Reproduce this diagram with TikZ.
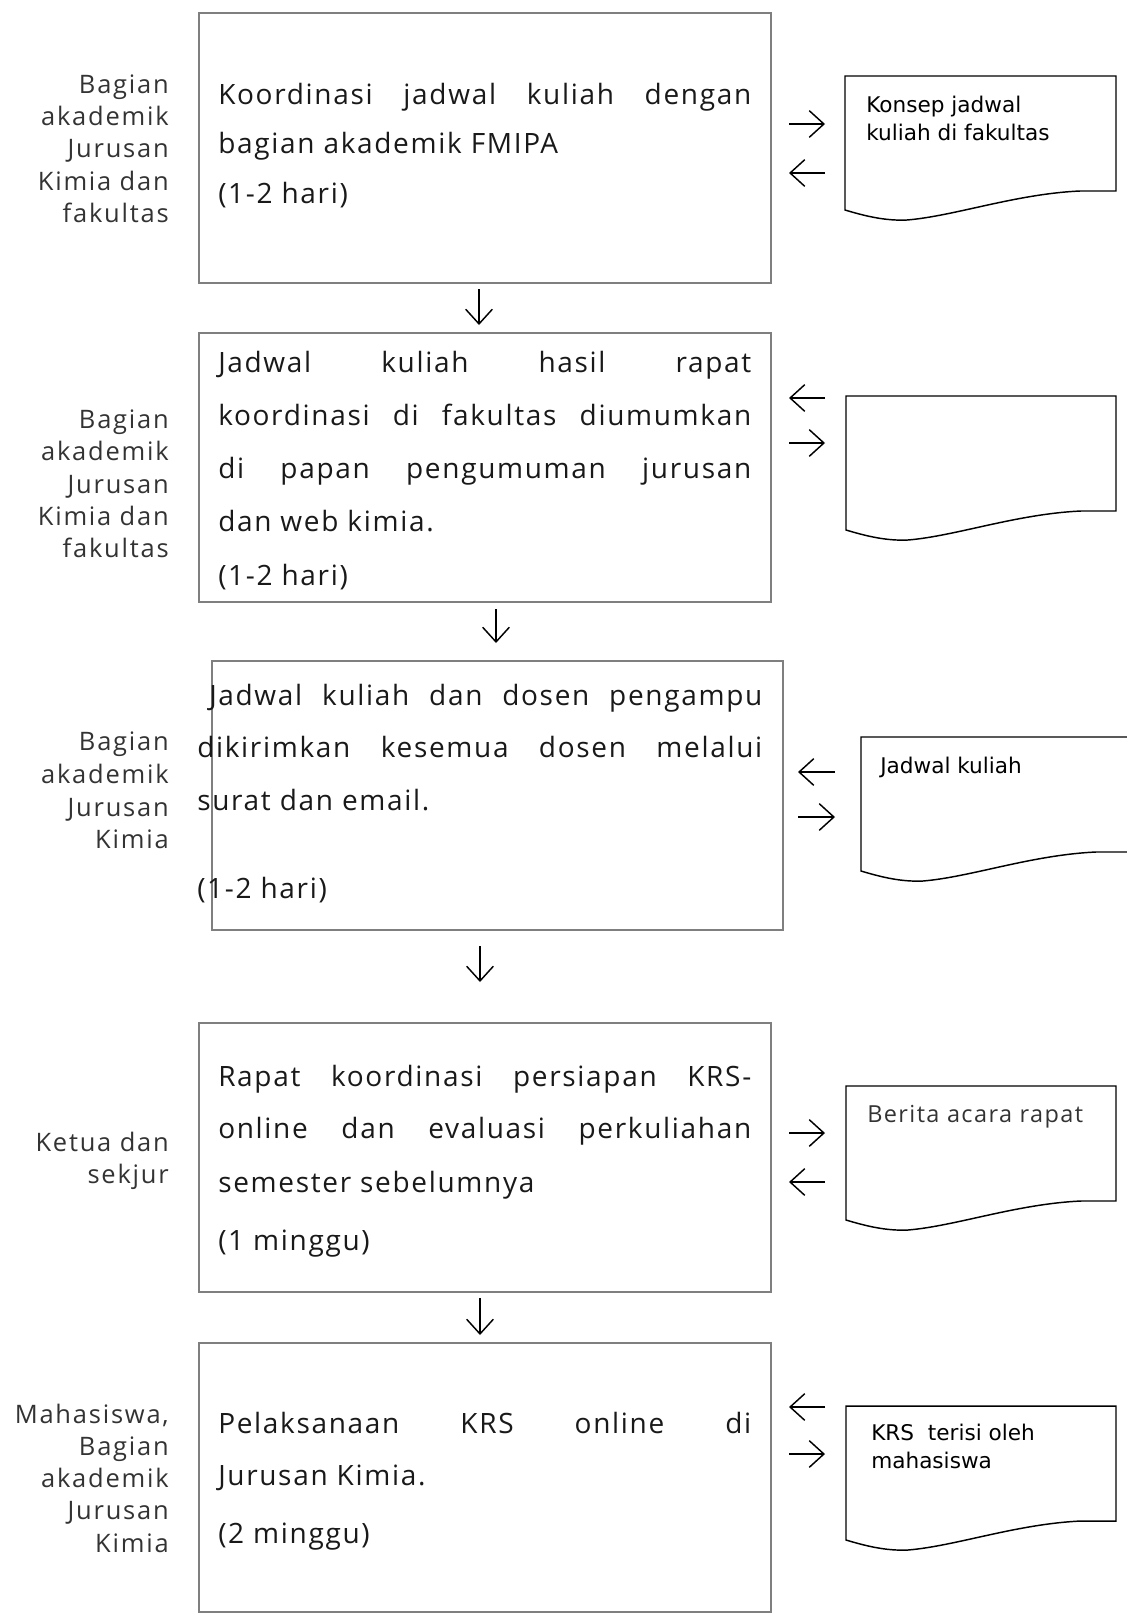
\documentclass[tikz,border=0pt]{standalone}
\usepackage{fontspec}
\usetikzlibrary{arrows.meta}
\newfontfamily\mainf[LetterSpace=6]{Open Sans}
\newfontfamily\labf[LetterSpace=7]{Open Sans}
\newfontfamily\docf{DejaVu Sans}
\definecolor{boxgray}{HTML}{7F7F7F}
\definecolor{labgray}{HTML}{333333}
\newcommand{\jl}[1]{\makebox[399.75pt][s]{#1}}
\newcommand{\docshape}[3]{%
  \draw[docline] (#1,#2) -- (#3,#2) -- (#3,{#2+115}) -- ({#1+235},{#2+115})
    .. controls ({#1+170},{#2+118}) and ({#1+110},{#2+140}) .. ({#1+62},{#2+144})
    .. controls ({#1+40},{#2+145}) and ({#1+20},{#2+140}) .. (#1,{#2+134}) -- cycle;}
\tikzset{
  procbox/.style={draw=boxgray, line width=1.2pt, rectangle, inner sep=0pt},
  mline/.style={anchor=base west, inner sep=0pt, font=\mainf\fontsize{21pt}{25pt}\selectfont, text=black!90},
  lab/.style={anchor=base east, inner sep=0pt, font=\labf\fontsize{19.1pt}{23pt}\selectfont, text=labgray},
  dtext/.style={anchor=base west, inner sep=0pt, font=\docf\fontsize{16.2pt}{19pt}\selectfont},
  btext/.style={anchor=base west, inner sep=0pt, font=\mainf\fontsize{17.6pt}{21pt}\selectfont, text=labgray},
  docline/.style={draw=black, line width=1.1pt},
  flow/.style={line width=1.1pt, -{Straight Barb[length=11pt,width=20pt]}},
}
\begin{document}
\begin{tikzpicture}[x=0.75pt,y=-0.75pt]
\useasboundingbox (0,0) rectangle (1127,1617);
\clip (0,0) rectangle (1127,1617);

% process boxes
\node[procbox, minimum width=429pt, minimum height=202.5pt] (b1) at (485,148) {};
\node[procbox, minimum width=429pt, minimum height=201.75pt] (b2) at (485,467.5) {};
\node[procbox, minimum width=428.25pt, minimum height=201.75pt] (b3) at (497.5,795.5) {};
\node[procbox, minimum width=429pt, minimum height=201.75pt] (b4) at (485,1157.5) {};
\node[procbox, minimum width=429pt, minimum height=201.75pt] (b5) at (485,1477.5) {};

% box 1 text
\node[mline] (t1a) at (218,104) {\jl{Koordinasi jadwal kuliah dengan}};
\node[mline] (t1b) at (218,153) {bagian akademik FMIPA};
\node[mline] (t1c) at (218,203) {(1-2 hari)};
% box 2 text
\node[mline] (t2a) at (218,372) {\jl{Jadwal kuliah hasil rapat}};
\node[mline] (t2b) at (218,425) {\jl{koordinasi di fakultas diumumkan}};
\node[mline] (t2c) at (218,478) {\jl{di papan pengumuman jurusan}};
\node[mline] (t2d) at (218,531) {dan web kimia.};
\node[mline] (t2e) at (218,585) {(1-2 hari)};
% box 3 text
\node[mline] (t3a) at (209,705) {\makebox[414.75pt][s]{Jadwal kuliah dan dosen pengampu}};
\node[mline] (t3b) at (197,757) {\makebox[423.75pt][s]{dikirimkan kesemua dosen melalui}};
\node[mline] (t3c) at (197,810) {surat dan email.};
\node[mline] (t3d) at (197,898) {(1-2 hari)};
% box 4 text
\node[mline] (t4a) at (218,1086) {\jl{Rapat koordinasi persiapan KRS-}};
\node[mline] (t4b) at (218,1138) {\jl{online dan evaluasi perkuliahan}};
\node[mline] (t4c) at (218,1192) {semester sebelumnya};
\node[mline] (t4d) at (218,1250) {(1 minggu)};
% box 5 text
\node[mline] (t5a) at (218,1433) {\jl{Pelaksanaan KRS online di}};
\node[mline] (t5b) at (218,1485) {Jurusan Kimia.};
\node[mline] (t5c) at (218,1543) {(2 minggu)};

% left labels
\foreach \t/\y [count=\i] in {Bagian/93, akademik/125, Jurusan/157, Kimia dan/190, fakultas/222}
  \node[lab] (la\i) at (169,\y) {\t};
\foreach \t/\y [count=\i] in {Bagian/428, akademik/460, Jurusan/493, Kimia dan/525, fakultas/557}
  \node[lab] (lb\i) at (169,\y) {\t};
\foreach \t/\y [count=\i] in {Bagian/750, akademik/783, Jurusan/816, Kimia/848}
  \node[lab] (lc\i) at (169,\y) {\t};
\foreach \t/\y [count=\i] in {Ketua dan/1151, sekjur/1183}
  \node[lab] (ld\i) at (169,\y) {\t};
\foreach \t/\y [count=\i] in {{Mahasiswa,}/1423, Bagian/1455, akademik/1487, Jurusan/1519, Kimia/1552}
  \node[lab] (le\i) at (169,\y) {\t};

% documents
\docshape{845}{76}{1116}
\docshape{846}{396}{1116}
\docshape{861}{737}{1133}
\docshape{846}{1086}{1116}
\docshape{846}{1406}{1116}

\node[dtext] (d1a) at (866,112) {Konsep jadwal};
\node[dtext] (d1b) at (866,140) {kuliah di fakultas};
\node[dtext] (d3a) at (880,773) {Jadwal kuliah};
\node[btext] (d4a) at (867,1122) {Berita acara rapat};
\node[dtext] (d5a) at (871,1440) {KRS\ \ terisi oleh};
\node[dtext] (d5b) at (871,1468) {mahasiswa};

% vertical flow arrows
\coordinate (v1s) at (479,289);  \coordinate (v1e) at (479,325);
\coordinate (v2s) at (496,609);  \coordinate (v2e) at (496,643);
\coordinate (v3s) at (480,946);  \coordinate (v3e) at (480,982);
\coordinate (v4s) at (480,1298); \coordinate (v4e) at (480,1335);
\draw[flow] (v1s) -- (v1e);
\draw[flow] (v2s) -- (v2e);
\draw[flow] (v3s) -- (v3e);
\draw[flow] (v4s) -- (v4e);

% side arrows
\coordinate (r1l) at (789,124);  \coordinate (r1r) at (825,124);
\coordinate (r2l) at (789,173);  \coordinate (r2r) at (825,173);
\coordinate (r3l) at (789,398);  \coordinate (r3r) at (825,398);
\coordinate (r4l) at (789,443);  \coordinate (r4r) at (825,443);
\coordinate (r5l) at (798,772);  \coordinate (r5r) at (835,772);
\coordinate (r6l) at (798,817);  \coordinate (r6r) at (835,817);
\coordinate (r7l) at (789,1133); \coordinate (r7r) at (825,1133);
\coordinate (r8l) at (789,1182); \coordinate (r8r) at (825,1182);
\coordinate (r9l) at (789,1407); \coordinate (r9r) at (825,1407);
\coordinate (r10l) at (789,1454); \coordinate (r10r) at (825,1454);
\draw[flow] (r1l) -- (r1r);
\draw[flow] (r2r) -- (r2l);
\draw[flow] (r3r) -- (r3l);
\draw[flow] (r4l) -- (r4r);
\draw[flow] (r5r) -- (r5l);
\draw[flow] (r6l) -- (r6r);
\draw[flow] (r7l) -- (r7r);
\draw[flow] (r8r) -- (r8l);
\draw[flow] (r9r) -- (r9l);
\draw[flow] (r10l) -- (r10r);
\end{tikzpicture}
\end{document}
